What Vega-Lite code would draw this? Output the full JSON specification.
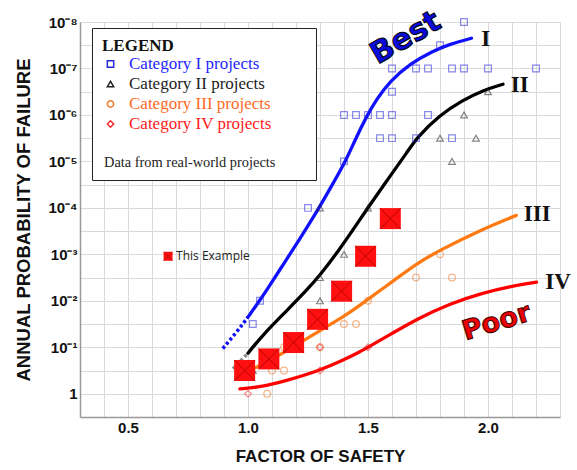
{
  "$schema": "https://vega.github.io/schema/vega-lite/v6.json",
  "width": 480,
  "height": 395,
  "autosize": "none",
  "padding": {"left": 80, "top": 22, "right": 17, "bottom": 53},
  "background": "white",
  "datasets": {
    "dot": [
      {"fs": 0.895, "p": 0.1062, "c": "I dot"},
      {"fs": 0.95, "p": 0.049, "c": "I dot"},
      {"fs": 1.0, "p": 0.02239, "c": "I dot"},
      {"fs": 0.9375, "p": 0.29, "c": "II dot"},
      {"fs": 1.0, "p": 0.134, "c": "II dot"},
      {"fs": 0.945, "p": 0.463, "c": "III dot"},
      {"fs": 0.986, "p": 0.363, "c": "III dot"}
    ],
    "solid": [
      {"fs": 1.0, "p": 0.02239, "c": "I"},
      {"fs": 1.05, "p": 0.00966, "c": "I"},
      {"fs": 1.09, "p": 0.00471, "c": "I"},
      {"fs": 1.13, "p": 0.002254, "c": "I"},
      {"fs": 1.174, "p": 0.001, "c": "I"},
      {"fs": 1.215, "p": 0.000471, "c": "I"},
      {"fs": 1.26, "p": 0.0002014, "c": "I"},
      {"fs": 1.3, "p": 9.2e-5, "c": "I"},
      {"fs": 1.353, "p": 3.07e-5, "c": "I"},
      {"fs": 1.41, "p": 9.12e-6, "c": "I"},
      {"fs": 1.445, "p": 3.55e-6, "c": "I"},
      {"fs": 1.493, "p": 1.096e-6, "c": "I"},
      {"fs": 1.535, "p": 4.68e-7, "c": "I"},
      {"fs": 1.59, "p": 1.905e-7, "c": "I"},
      {"fs": 1.674, "p": 7.94e-8, "c": "I"},
      {"fs": 1.771, "p": 4.17e-8, "c": "I"},
      {"fs": 1.84, "p": 3.02e-8, "c": "I"},
      {"fs": 1.931, "p": 2.24e-8, "c": "I"},
      {"fs": 1.0, "p": 0.134, "c": "II"},
      {"fs": 1.0625, "p": 0.0533, "c": "II"},
      {"fs": 1.16, "p": 0.0166, "c": "II"},
      {"fs": 1.243, "p": 0.00603, "c": "II"},
      {"fs": 1.3, "p": 0.00282, "c": "II"},
      {"fs": 1.382, "p": 0.00078, "c": "II"},
      {"fs": 1.466, "p": 0.0001795, "c": "II"},
      {"fs": 1.5, "p": 9.9e-5, "c": "II"},
      {"fs": 1.59, "p": 2.14e-5, "c": "II"},
      {"fs": 1.667, "p": 5.97e-6, "c": "II"},
      {"fs": 1.702, "p": 3.16e-6, "c": "II"},
      {"fs": 1.799, "p": 1.0e-6, "c": "II"},
      {"fs": 1.896, "p": 4.79e-7, "c": "II"},
      {"fs": 1.979, "p": 2.95e-7, "c": "II"},
      {"fs": 2.0625, "p": 2.19e-7, "c": "II"},
      {"fs": 0.986, "p": 0.363, "c": "III"},
      {"fs": 1.021, "p": 0.29, "c": "III"},
      {"fs": 1.104, "p": 0.178, "c": "III"},
      {"fs": 1.2, "p": 0.0912, "c": "III"},
      {"fs": 1.299, "p": 0.0437, "c": "III"},
      {"fs": 1.396, "p": 0.0224, "c": "III"},
      {"fs": 1.466, "p": 0.01259, "c": "III"},
      {"fs": 1.549, "p": 0.00603, "c": "III"},
      {"fs": 1.604, "p": 0.0038, "c": "III"},
      {"fs": 1.702, "p": 0.00158, "c": "III"},
      {"fs": 1.799, "p": 0.000813, "c": "III"},
      {"fs": 1.979, "p": 0.000282, "c": "III"},
      {"fs": 2.118, "p": 0.000145, "c": "III"},
      {"fs": 0.966, "p": 0.785, "c": "IV"},
      {"fs": 1.049, "p": 0.724, "c": "IV"},
      {"fs": 1.16, "p": 0.525, "c": "IV"},
      {"fs": 1.299, "p": 0.316, "c": "IV"},
      {"fs": 1.396, "p": 0.1905, "c": "IV"},
      {"fs": 1.466, "p": 0.1259, "c": "IV"},
      {"fs": 1.5, "p": 0.1, "c": "IV"},
      {"fs": 1.604, "p": 0.049, "c": "IV"},
      {"fs": 1.702, "p": 0.0251, "c": "IV"},
      {"fs": 1.84, "p": 0.0115, "c": "IV"},
      {"fs": 1.979, "p": 0.00676, "c": "IV"},
      {"fs": 2.09, "p": 0.0049, "c": "IV"},
      {"fs": 2.202, "p": 0.00398, "c": "IV"}
    ],
    "pts": [
      {"fs": 1.9, "p": 1e-8, "cat": "Category I projects"},
      {"fs": 1.8, "p": 3.16e-8, "cat": "Category I projects"},
      {"fs": 1.6, "p": 1e-7, "cat": "Category I projects"},
      {"fs": 1.7, "p": 1e-7, "cat": "Category I projects"},
      {"fs": 1.75, "p": 1e-7, "cat": "Category I projects"},
      {"fs": 1.85, "p": 1e-7, "cat": "Category I projects"},
      {"fs": 1.9, "p": 1e-7, "cat": "Category I projects"},
      {"fs": 2.0, "p": 1e-7, "cat": "Category I projects"},
      {"fs": 2.2, "p": 1e-7, "cat": "Category I projects"},
      {"fs": 1.6, "p": 3.16e-7, "cat": "Category I projects"},
      {"fs": 1.4, "p": 1e-6, "cat": "Category I projects"},
      {"fs": 1.45, "p": 1e-6, "cat": "Category I projects"},
      {"fs": 1.5, "p": 1e-6, "cat": "Category I projects"},
      {"fs": 1.55, "p": 1e-6, "cat": "Category I projects"},
      {"fs": 1.6, "p": 1e-6, "cat": "Category I projects"},
      {"fs": 1.75, "p": 1e-6, "cat": "Category I projects"},
      {"fs": 1.55, "p": 3.16e-6, "cat": "Category I projects"},
      {"fs": 1.6, "p": 3.16e-6, "cat": "Category I projects"},
      {"fs": 1.7, "p": 3.16e-6, "cat": "Category I projects"},
      {"fs": 1.85, "p": 3.16e-6, "cat": "Category I projects"},
      {"fs": 1.4, "p": 1e-5, "cat": "Category I projects"},
      {"fs": 1.25, "p": 1e-4, "cat": "Category I projects"},
      {"fs": 1.05, "p": 0.01, "cat": "Category I projects"},
      {"fs": 1.02, "p": 0.0316, "cat": "Category I projects"},
      {"fs": 2.0, "p": 3.16e-7, "cat": "Category II projects"},
      {"fs": 1.9, "p": 1e-6, "cat": "Category II projects"},
      {"fs": 1.8, "p": 3.16e-6, "cat": "Category II projects"},
      {"fs": 1.95, "p": 3.16e-6, "cat": "Category II projects"},
      {"fs": 1.85, "p": 1e-5, "cat": "Category II projects"},
      {"fs": 1.5, "p": 1e-4, "cat": "Category II projects"},
      {"fs": 1.3, "p": 1e-4, "cat": "Category II projects"},
      {"fs": 1.4, "p": 0.001, "cat": "Category II projects"},
      {"fs": 1.3, "p": 0.00316, "cat": "Category II projects"},
      {"fs": 1.3, "p": 0.01, "cat": "Category II projects"},
      {"fs": 1.02, "p": 0.316, "cat": "Category II projects"},
      {"fs": 1.08, "p": 1, "cat": "Category III projects"},
      {"fs": 1.1, "p": 0.316, "cat": "Category III projects"},
      {"fs": 1.15, "p": 0.316, "cat": "Category III projects"},
      {"fs": 1.15, "p": 0.1, "cat": "Category III projects"},
      {"fs": 1.3, "p": 0.1, "cat": "Category III projects"},
      {"fs": 1.4, "p": 0.0316, "cat": "Category III projects"},
      {"fs": 1.45, "p": 0.0316, "cat": "Category III projects"},
      {"fs": 1.5, "p": 0.01, "cat": "Category III projects"},
      {"fs": 1.7, "p": 0.00316, "cat": "Category III projects"},
      {"fs": 1.8, "p": 0.001, "cat": "Category III projects"},
      {"fs": 1.85, "p": 0.00316, "cat": "Category III projects"},
      {"fs": 1.0, "p": 1, "cat": "Category IV projects"},
      {"fs": 1.3, "p": 0.1, "cat": "Category IV projects"},
      {"fs": 1.3, "p": 0.316, "cat": "Category IV projects"},
      {"fs": 1.5, "p": 0.1, "cat": "Category IV projects"}
    ],
    "ex": [
      {"fs": 0.986, "p": 0.316},
      {"fs": 1.087, "p": 0.178},
      {"fs": 1.19, "p": 0.079},
      {"fs": 1.29, "p": 0.025},
      {"fs": 1.39, "p": 0.0062},
      {"fs": 1.49, "p": 0.0011},
      {"fs": 1.593, "p": 0.00017}
    ],
    "key": [{"fs": 0.667, "p": 0.0011, "t": "This Example"}],
    "lab": [
      {"fs": 1.99, "p": 2.3e-8, "t": "I"},
      {"fs": 2.132, "p": 2.28e-7, "t": "II"},
      {"fs": 2.205, "p": 1.35e-4, "t": "III"},
      {"fs": 2.292, "p": 0.00395, "t": "IV"}
    ],
    "best": [{"fs": 1.657, "p": 2.21e-8, "t": "Best"}],
    "poor": [{"fs": 2.036, "p": 0.0292, "t": "Poor"}]
  },
  "encoding": {
    "x": {
      "field": "fs", "type": "quantitative",
      "scale": {"domain": [0.3, 2.3], "nice": false, "zero": false},
      "title": "FACTOR OF SAFETY",
      "axis": {
        "values": [0.3,0.4,0.5,0.6,0.7,0.8,0.9,1,1.1,1.2,1.3,1.4,1.5,1.6,1.7,1.8,1.9,2,2.1,2.2,2.3],
        "labelExpr": "abs(datum.value*2 - round(datum.value*2)) < 0.01 ? format(datum.value, '.1f') : ''",
        "labelPadding": 3,
        "titlePadding": 13,
        "titleFontSize": 17
      }
    },
    "y": {
      "field": "p", "type": "quantitative",
      "scale": {"type": "log", "domain": [1e-8, 3.1623], "reverse": true, "nice": false},
      "title": "ANNUAL PROBABILITY OF FAILURE",
      "axis": {
        "values": [1e-8,3.1623e-8,1e-7,3.1623e-7,1e-6,3.1623e-6,1e-5,3.1623e-5,1e-4,3.1623e-4,0.001,0.0031623,0.01,0.031623,0.1,0.31623,1,3.1623],
        "labelExpr": "abs(log(datum.value)/LN10 - round(log(datum.value)/LN10)) > 0.2 ? '' : (round(log(datum.value)/LN10) == 0 ? '1' : '10⁻' + ['', '¹', '²', '³', '⁴', '⁵', '⁶', '⁷', '⁸'][-round(log(datum.value)/LN10)])",
        "labelPadding": 3,
        "titlePadding": 14,
        "titleFontSize": 18.5
      }
    }
  },
  "layer": [
    {
      "data": {"name": "dot"},
      "mark": {"type": "line", "interpolate": "basis", "strokeWidth": 3.5, "strokeDash": [3, 2.5]},
      "encoding": {
        "stroke": {"field": "c", "type": "nominal", "legend": null,
          "scale": {"domain": ["I", "II", "III", "IV", "I dot", "II dot", "III dot"],
                    "range": ["#1010ff", "#000000", "#ff7a12", "#ff0000", "#1010ff", "#8a8a8a", "#ff7a12"]}}
      }
    },
    {
      "data": {"name": "solid"},
      "mark": {"type": "line", "interpolate": "basis", "strokeWidth": 3.3, "strokeCap": "round"},
      "encoding": {
        "stroke": {"field": "c", "type": "nominal", "legend": null,
          "scale": {"domain": ["I", "II", "III", "IV", "I dot", "II dot", "III dot"],
                    "range": ["#1010ff", "#000000", "#ff7a12", "#ff0000", "#1010ff", "#8a8a8a", "#ff7a12"]}}
      }
    },
    {
      "data": {"name": "pts"},
      "mark": {"type": "point", "filled": false, "size": 45, "strokeWidth": 1.2, "opacity": 0.55},
      "encoding": {
        "color": {
          "field": "cat", "type": "nominal",
          "scale": {"domain": ["Category I projects", "Category II projects", "Category III projects", "Category IV projects", " ", "Data from real-world projects"],
                    "range": ["#2828d8", "#222222", "#f07a2a", "#f02a2a", "transparent", "transparent"]},
          "legend": {
            "title": "LEGEND", "orient": "none", "legendX": 12, "legendY": 6,
            "padding": 10, "fillColor": "white", "strokeColor": "#222",
            "titleFont": "Liberation Serif", "titleFontSize": 17, "titleFontWeight": "bold", "titleColor": "#111", "titlePadding": 0.5,
            "labelFont": "Liberation Serif", "labelLimit": 400,
            "labelFontSize": {"expr": "datum.value == 'Data from real-world projects' ? 14.4 : 17"},
            "labelOffset": {"expr": "datum.value == 'Data from real-world projects' ? -15 : 10"},
            "labelColor": {"expr": "(datum.value == 'Category I projects' || datum.index == 0) ? '#1f1fff' : (datum.value == 'Category III projects' || datum.index == 2) ? '#ff6a1f' : (datum.value == 'Category IV projects' || datum.index == 3) ? '#ff1a1a' : '#222222'"},
            "labelExpr": "datum.value == 'Data from real-world projects' ? datum.label + '\u2800\u2800\u2800' : datum.label",
            "symbolSize": 40, "symbolStrokeWidth": 1.5, "symbolOpacity": 1, "rowPadding": 2
          }
        },
        "shape": {
          "field": "cat", "type": "nominal",
          "scale": {"domain": ["Category I projects", "Category II projects", "Category III projects", "Category IV projects", " ", "Data from real-world projects"],
                    "range": ["square", "triangle-up", "circle", "diamond", "circle", "circle"]},
          "legend": {"title": "LEGEND"}
        }
      }
    },
    {
      "data": {"name": "ex"},
      "mark": {"type": "point", "shape": "square", "filled": true, "size": 441, "color": "#ff1010", "opacity": 1}
    },
    {
      "data": {"name": "ex"},
      "mark": {"type": "point", "shape": "M-1,-1L1,1M1,-1L-1,1", "filled": false, "size": 441, "stroke": "#9a0000", "strokeWidth": 0.8, "opacity": 0.9}
    },
    {
      "data": {"name": "key"},
      "mark": {"type": "point", "shape": "square", "filled": true, "size": 81, "color": "#ff1010", "opacity": 1}
    },
    {
      "data": {"name": "key"},
      "mark": {"type": "point", "shape": "M-1,-1L1,1M1,-1L-1,1", "filled": false, "size": 81, "stroke": "#9a0000", "strokeWidth": 0.6, "opacity": 0.9}
    },
    {
      "data": {"name": "key"},
      "mark": {"type": "text", "align": "left", "baseline": "middle", "dx": 8, "font": "Open Sans", "fontSize": 12, "color": "#222"},
      "encoding": {"text": {"field": "t"}}
    },
    {
      "data": {"name": "lab"},
      "mark": {"type": "text", "align": "center", "baseline": "middle", "font": "Liberation Serif", "fontSize": 23, "fontWeight": "bold", "color": "#111"},
      "encoding": {"text": {"field": "t"}}
    },
    {
      "data": {"name": "best"},
      "mark": {"type": "text", "align": "center", "baseline": "middle", "angle": -30, "font": "DejaVu Sans", "fontSize": 30, "fontWeight": "bold", "fill": "#0a0adc", "stroke": "#000000", "strokeWidth": 1},
      "encoding": {"text": {"field": "t"}}
    },
    {
      "data": {"name": "poor"},
      "mark": {"type": "text", "align": "center", "baseline": "middle", "angle": -17, "font": "DejaVu Sans", "fontSize": 27, "fontWeight": "bold", "fill": "#ee0000", "stroke": "#400000", "strokeWidth": 1},
      "encoding": {"text": {"field": "t"}}
    }
  ],
  "config": {
    "view": {"stroke": null},
    "axis": {
      "ticks": false,
      "domainColor": "#999999",
      "domainWidth": 1.5,
      "gridColor": "#d9d9d9",
      "gridWidth": 1,
      "labelFont": "Liberation Sans",
      "labelFontWeight": "bold",
      "labelFontSize": 15,
      "labelColor": "#111111",
      "labelOverlap": false,
      "titleFont": "Liberation Sans",
      "titleFontWeight": "bold",
      "titleColor": "#111111"
    }
  }
}
